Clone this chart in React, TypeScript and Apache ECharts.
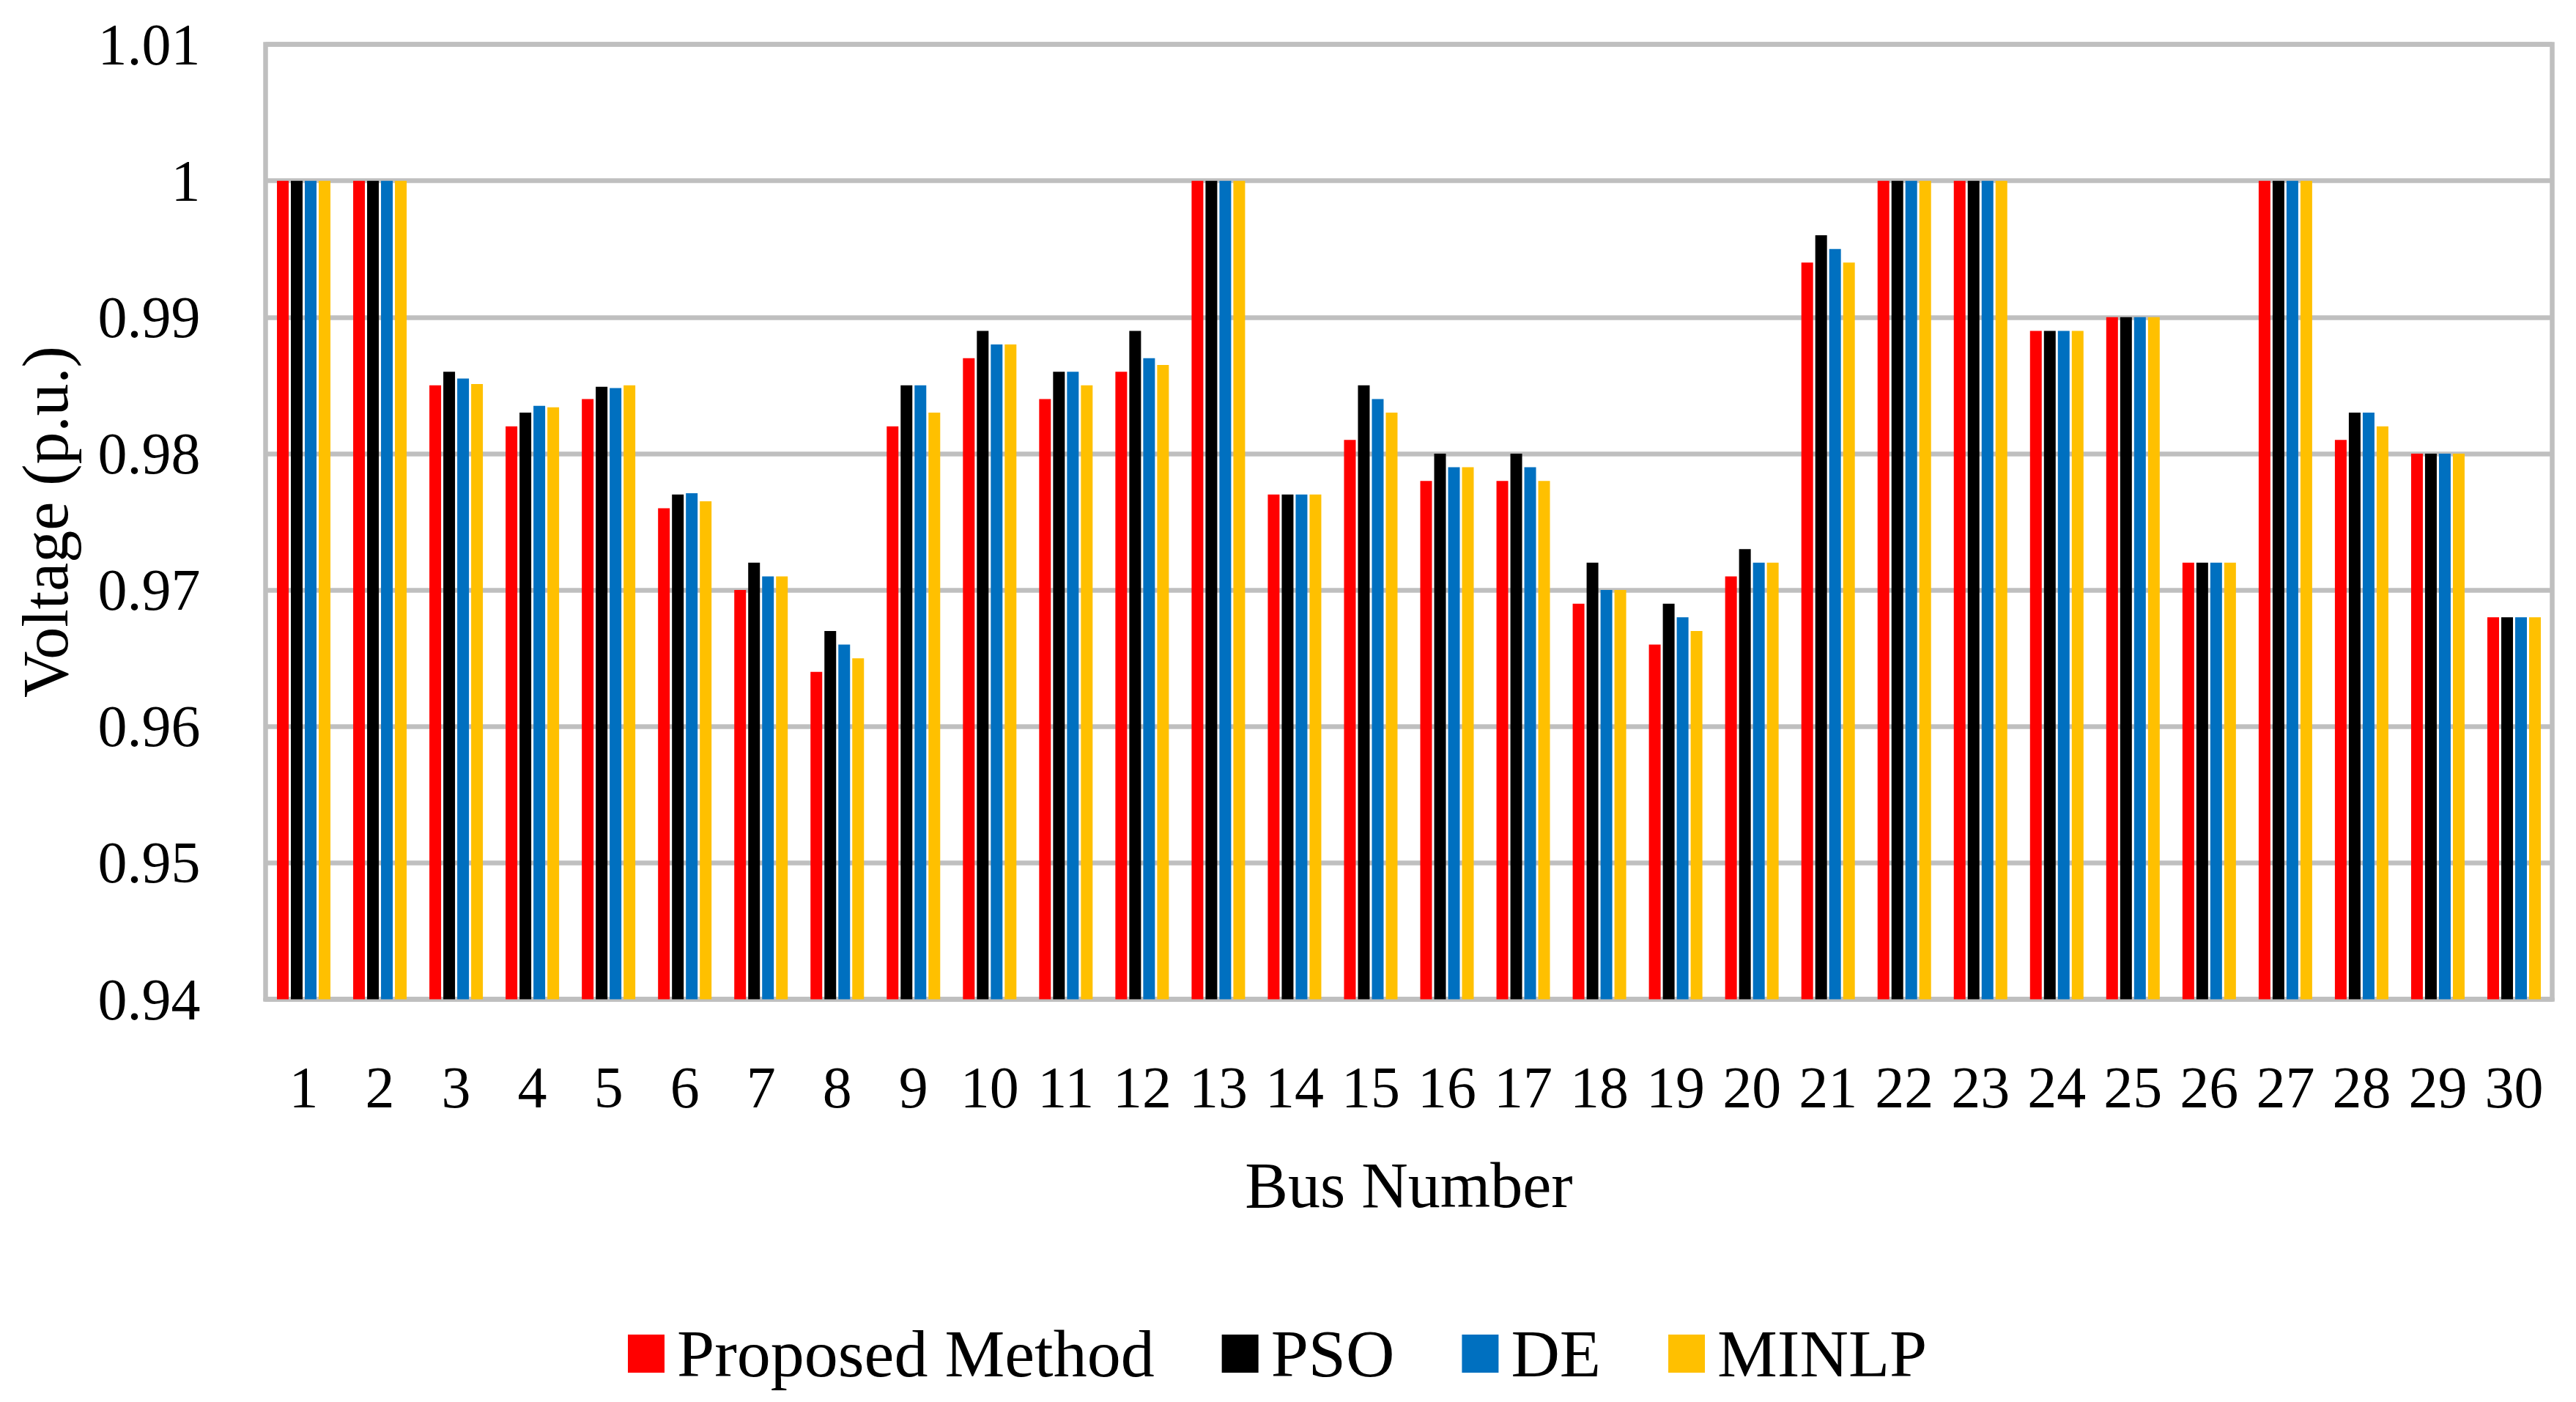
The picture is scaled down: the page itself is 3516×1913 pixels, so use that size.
import React, { useEffect, useRef } from "react";
import * as echarts from "echarts";

const busNumbers = Array.from({ length: 30 }, (_, i) => String(i + 1));
const yTicks = { min: 0.94, max: 1.01, interval: 0.01 };

const proposedMethod = [1, 1, 0.985, 0.982, 0.984, 0.976, 0.97, 0.964, 0.982, 0.987, 0.984, 0.986, 1, 0.977, 0.981, 0.978, 0.978, 0.969, 0.966, 0.971, 0.994, 1, 1, 0.989, 0.99, 0.972, 1, 0.981, 0.98, 0.968];
const pso = [1, 1, 0.986, 0.983, 0.9849, 0.977, 0.972, 0.967, 0.985, 0.989, 0.986, 0.989, 1, 0.977, 0.985, 0.98, 0.98, 0.972, 0.969, 0.973, 0.996, 1, 1, 0.989, 0.99, 0.972, 1, 0.983, 0.98, 0.968];
const de = [1, 1, 0.9855, 0.9835, 0.9848, 0.9771, 0.971, 0.966, 0.985, 0.988, 0.986, 0.987, 1, 0.977, 0.984, 0.979, 0.979, 0.97, 0.968, 0.972, 0.995, 1, 1, 0.989, 0.99, 0.972, 1, 0.983, 0.98, 0.968];
const minlp = [1, 1, 0.9851, 0.9834, 0.985, 0.9765, 0.971, 0.965, 0.983, 0.988, 0.985, 0.9865, 1, 0.977, 0.983, 0.979, 0.978, 0.97, 0.967, 0.972, 0.994, 1, 1, 0.989, 0.99, 0.972, 1, 0.982, 0.98, 0.968];

const seriesNames = ["Proposed Method", "PSO", "DE", "MINLP"];
const seriesColors = ["#FF0000", "#000000", "#0070C0", "#FFC000"];
const seriesData = [proposedMethod, pso, de, minlp];

const FONT = "'Liberation Serif', 'Times New Roman', serif";
const GRID_COLOR = "#BFBFBF";

export default function App() {
  const ref = useRef<HTMLDivElement>(null);
  useEffect(() => {
    if (!ref.current) return;
    const chart = echarts.init(ref.current, null, { renderer: "svg" });
    chart.setOption({
      animation: false,
      backgroundColor: "#ffffff",
      textStyle: { fontFamily: FONT, color: "#000" },
      grid: {
        left: 362.5,
        right: 32.5,
        top: 60.5,
        bottom: 549.5,
        show: true,
        borderColor: GRID_COLOR,
        borderWidth: 6.5,
        containLabel: false,
      },
      legend: {
        left: 852,
        top: 1796,
        itemWidth: 50,
        itemHeight: 52,
        itemGap: 92,
        icon: "rect",
        data: seriesNames,
        textStyle: {
          fontFamily: FONT,
          fontSize: 92,
          color: "#000",
          padding: [0, 0, 0, 12],
        },
      },
      xAxis: {
        type: "category",
        data: busNumbers,
        name: "Bus Number",
        nameLocation: "middle",
        nameGap: 210,
        nameTextStyle: { fontFamily: FONT, fontSize: 88, color: "#000" },
        axisLine: { show: true, lineStyle: { color: GRID_COLOR, width: 6.5 } },
        axisTick: { show: false },
        axisLabel: { fontFamily: FONT, fontSize: 80, color: "#000", margin: 80, interval: 0 },
      },
      yAxis: {
        type: "value",
        min: yTicks.min,
        max: yTicks.max,
        interval: yTicks.interval,
        name: "Voltage (p.u.)",
        nameLocation: "middle",
        nameGap: 256,
        nameTextStyle: { fontFamily: FONT, fontSize: 88, color: "#000" },
        axisLine: { show: false },
        axisTick: { show: false },
        splitLine: { show: true, lineStyle: { color: GRID_COLOR, width: 6.5 } },
        axisLabel: {
          fontFamily: FONT,
          fontSize: 80,
          color: "#000",
          margin: 89,
          formatter: (v: number) => String(parseFloat(v.toFixed(2))),
        },
      },
      series: seriesData.map((d, i) => ({
        name: seriesNames[i],
        type: "bar",
        data: d,
        barWidth: 16,
        barGap: "18.75%",
        itemStyle: { color: seriesColors[i] },
        clip: true,
      })),
    });
    return () => chart.dispose();
  }, []);
  return (
    <div
      ref={ref}
      style={{ position: "fixed", left: 0, top: 0, width: 3516, height: 1913, background: "#fff" }}
    />
  );
}
